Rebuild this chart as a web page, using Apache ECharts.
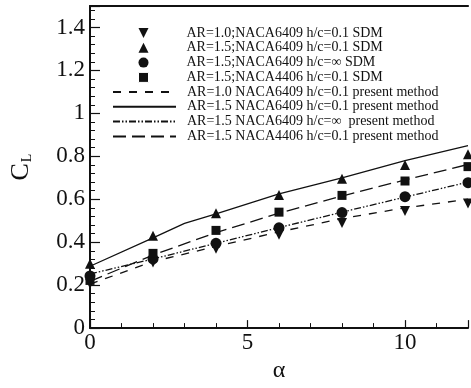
<!DOCTYPE html>
<html>
<head>
<meta charset="utf-8">
<script src="https://cdn.jsdelivr.net/npm/echarts@6/dist/echarts.min.js"></script>
<style>
  html, body { margin: 0; padding: 0; background: #fff; }
  #chart { width: 471px; height: 388px; }
</style>
</head>
<body>
<div id="chart"></div>
<script>
// angle of attack
const alphaSDM = [0, 2, 4, 6, 8, 10, 12]
const alphaSolid = [0, 2, 3, 4, 6, 8, 10, 12]

// SDM results (markers)
const sdmAR10 = [0.206, 0.305, 0.37, 0.435, 0.49, 0.545, 0.58]
const sdmAR15 = [0.30, 0.43, 0.535, 0.62, 0.695, 0.76, 0.81]
const sdmAR15Inf = [0.243, 0.322, 0.395, 0.467, 0.538, 0.612, 0.677]
const sdmAR15N4406 = [0.222, 0.348, 0.455, 0.54, 0.618, 0.685, 0.752]

// present method (lines)
const pmAR10 = [0.205, 0.31, 0.38, 0.448, 0.51, 0.56, 0.60]
const pmAR15 = [0.288, 0.42, 0.488, 0.532, 0.625, 0.70, 0.78, 0.85]
const pmAR15Inf = [0.252, 0.322, 0.395, 0.468, 0.54, 0.61, 0.68]
const pmAR15N4406 = [0.218, 0.34, 0.445, 0.535, 0.615, 0.69, 0.762]

const yTicks = ['0', '0.2', '0.4', '0.6', '0.8', '1', '1.2', '1.4']

const names = [
  'AR=1.0;NACA6409 h/c=0.1 SDM',
  'AR=1.5;NACA6409 h/c=0.1 SDM',
  'AR=1.5;NACA6409 h/c=\u221e SDM',
  'AR=1.5;NACA4406 h/c=0.1 SDM',
  'AR=1.0 NACA6409 h/c=0.1 present method',
  'AR=1.5 NACA6409 h/c=0.1 present method',
  'AR=1.5 NACA6409 h/c=\u221e  present method',
  'AR=1.5 NACA4406 h/c=0.1 present method'
]

const INK = '#111'
const FONT = 'Liberation Serif'
const DOWN_TRIANGLE = 'path://M0,0L10,0L5,10Z'

const pairs = (xs, ys) => xs.map((x, i) => [x, ys[i]])

const lineSeries = (name, xs, ys, dash) => ({
  name,
  type: 'line',
  data: pairs(xs, ys),
  symbol: 'none',
  z: 2,
  lineStyle: { color: INK, width: 1.3, type: dash },
  itemStyle: { color: INK }
})

const markSeries = (name, ys, symbol, size, rotate) => ({
  name,
  type: 'scatter',
  data: pairs(alphaSDM, ys),
  symbol,
  symbolSize: size,
  symbolRotate: rotate || 0,
  z: 3,
  itemStyle: { color: INK, opacity: 1 }
})

const legendText = (padLeft) => ({
  fontFamily: FONT,
  fontSize: 14,
  lineHeight: 14,
  color: INK,
  padding: [0, 0, 0, padLeft]
})

const chart = echarts.init(document.getElementById('chart'))

chart.setOption({
  animation: false,
  backgroundColor: '#fff',
  textStyle: { fontFamily: FONT },
  grid: { left: 90, right: -2, top: 6, bottom: 47 },
  legend: [
    {
      // SDM markers
      data: [
        { name: names[0], icon: DOWN_TRIANGLE },
        { name: names[1], icon: 'triangle' },
        { name: names[2], icon: 'circle' },
        { name: names[3], icon: 'rect', itemStyle: { borderColor: '#fff', borderWidth: 1 } }
      ],
      orient: 'vertical',
      left: 138,
      top: 26,
      padding: 0,
      itemWidth: 10,
      itemHeight: 10,
      itemGap: 0.8,
      selectedMode: false,
      itemStyle: { opacity: 1 },
      textStyle: legendText(33)
    },
    {
      // present method lines
      data: names.slice(4),
      orient: 'vertical',
      left: 112,
      top: 85,
      padding: 0,
      itemWidth: 63,
      itemHeight: 10,
      itemGap: 0.8,
      selectedMode: false,
      itemStyle: { opacity: 0 },
      textStyle: legendText(6)
    }
  ],
  xAxis: [
    {
      type: 'value',
      min: 0,
      max: 12,
      interval: 5,
      name: '\u03b1',
      nameLocation: 'middle',
      nameGap: 26,
      nameTextStyle: { fontFamily: FONT, fontSize: 24, color: INK },
      axisLine: { onZero: false, lineStyle: { color: INK, width: 2 } },
      axisTick: { inside: true, length: 8, lineStyle: { color: INK, width: 1.2 } },
      minorTick: { show: true, splitNumber: 5, length: 5, lineStyle: { color: INK, width: 1 } },
      axisLabel: {
        fontFamily: FONT, fontSize: 23, color: INK, margin: 3,
        formatter: (v) => (v % 5 === 0 ? String(v) : '')
      },
      splitLine: { show: false }
    },
    {
      type: 'value',
      position: 'top',
      min: 0,
      max: 12,
      interval: 5,
      axisLine: { onZero: false, lineStyle: { color: INK, width: 2.2 } },
      axisTick: { show: false },
      axisLabel: { show: false },
      splitLine: { show: false }
    }
  ],
  yAxis: {
    type: 'value',
    min: 0,
    max: 1.5,
    interval: 0.2,
    name: '{c|C}{s|L}',
    nameLocation: 'middle',
    nameGap: 56,
    nameRotate: 90,
    nameTextStyle: {
      color: INK,
      rich: {
        c: { fontFamily: FONT, fontSize: 26, color: INK },
        s: { fontFamily: FONT, fontSize: 14, color: INK, verticalAlign: 'bottom', padding: [12, 0, 0, 1] }
      }
    },
    axisLine: { show: true, onZero: false, lineStyle: { color: INK, width: 2 } },
    axisTick: { inside: true, length: 10, lineStyle: { color: INK, width: 1.2 } },
    minorTick: { show: true, splitNumber: 5, length: 5, lineStyle: { color: INK, width: 1 } },
    axisLabel: {
      fontFamily: FONT, fontSize: 23, color: INK, margin: 5,
      formatter: (v) => {
        const i = Math.round(v / 0.2)
        return Math.abs(v - i * 0.2) < 1e-6 && i < yTicks.length ? yTicks[i] : ''
      }
    },
    splitLine: { show: false }
  },
  series: [
    markSeries(names[0], sdmAR10, 'triangle', 10, 180),
    markSeries(names[1], sdmAR15, 'triangle', 10),
    markSeries(names[2], sdmAR15Inf, 'circle', 11),
    markSeries(names[3], sdmAR15N4406, 'rect', 9),
    lineSeries(names[4], alphaSDM, pmAR10, [8, 8]),
    lineSeries(names[5], alphaSolid, pmAR15, 'solid'),
    lineSeries(names[6], alphaSDM, pmAR15Inf, [7, 2, 1.5, 2, 1.5, 2]),
    lineSeries(names[7], alphaSDM, pmAR15N4406, [13, 6])
  ]
})
</script>
</body>
</html>
